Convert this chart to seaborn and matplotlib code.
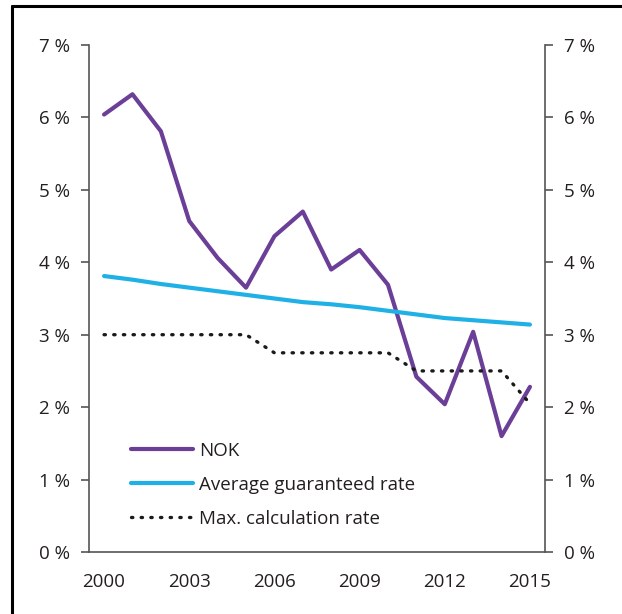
import pandas as pd
import matplotlib.pyplot as plt
import seaborn as sns
from matplotlib.lines import Line2D
from matplotlib.ticker import FuncFormatter

sns.set_style('white')
plt.rcParams['font.family'] = ['Open Sans', 'DejaVu Sans']

# Data
years = list(range(2000, 2016))
nok = [6.04, 6.32, 5.81, 4.57, 4.06, 3.65, 4.36, 4.70, 3.90, 4.17, 3.69, 2.42, 2.04, 3.04, 1.60, 2.28]
avg_guaranteed = [3.81, 3.76, 3.70, 3.65, 3.60, 3.55, 3.50, 3.45, 3.42, 3.38, 3.33, 3.28, 3.23, 3.20, 3.17, 3.14]
max_calc = [3.0, 3.0, 3.0, 3.0, 3.0, 3.0, 2.75, 2.75, 2.75, 2.75, 2.75, 2.5, 2.5, 2.5, 2.5, 2.05]

df = pd.DataFrame({'year': years, 'NOK': nok,
                   'Average guaranteed rate': avg_guaranteed,
                   'Max. calculation rate': max_calc})

fig = plt.figure(figsize=(6.22, 6.14), dpi=100)
ax = fig.add_axes([0.1431, 0.101, 0.7331, 0.8257])

sns.lineplot(data=df, x='year', y='NOK', ax=ax, color='#6b3f98', lw=3, label='NOK')
sns.lineplot(data=df, x='year', y='Average guaranteed rate', ax=ax, color='#1fb1e6', lw=3,
             label='Average guaranteed rate')
sns.lineplot(data=df, x='year', y='Max. calculation rate', ax=ax, color='#1a1a1a', lw=2.4,
             linestyle=(0, (0.4, 2.5)), dash_capstyle='round', label='Max. calculation rate')

ax.set_xlim(1999.47, 2015.53)
ax.set_ylim(0, 7)
ax.set_xlabel('')
ax.set_ylabel('')
ax.set_xticks([2000, 2003, 2006, 2009, 2012, 2015])
ax.set_yticks(range(0, 8))
pct = FuncFormatter(lambda v, p: f'{int(v)} %')
ax.yaxis.set_major_formatter(pct)

ax2 = ax.twinx()
ax2.set_ylim(0, 7)
ax2.set_yticks(range(0, 8))
ax2.yaxis.set_major_formatter(pct)

spine_c = '#555555'
for a in (ax, ax2):
    a.spines['top'].set_visible(False)
    for s in ('left', 'right', 'bottom'):
        a.spines[s].set_color(spine_c)
        a.spines[s].set_linewidth(1.2)
    a.tick_params(axis='y', length=6, width=1.2, color=spine_c, labelsize=13.5,
                  labelcolor='#231f20', pad=8)
ax.tick_params(axis='x', length=0, labelsize=13.5, labelcolor='#231f20', pad=15)
ax2.spines['left'].set_visible(False)
ax.spines['right'].set_visible(False)
ax2.spines['bottom'].set_visible(False)

ax.legend(loc='lower left', bbox_to_anchor=(0.055, 0.015), frameon=False, fontsize=13.5,
          handlelength=3.3, handletextpad=0.35, labelspacing=0.85, labelcolor='#231f20')

# frame round the figure: left and top edges only
fig.add_artist(Line2D([12 / 622, 12 / 622], [0, 1 - 6 / 614], transform=fig.transFigure,
                      color='black', lw=2.2))
fig.add_artist(Line2D([12 / 622, 1], [1 - 6 / 614, 1 - 6 / 614], transform=fig.transFigure,
                      color='black', lw=2.2))

fig.savefig('out.png', dpi=100)
